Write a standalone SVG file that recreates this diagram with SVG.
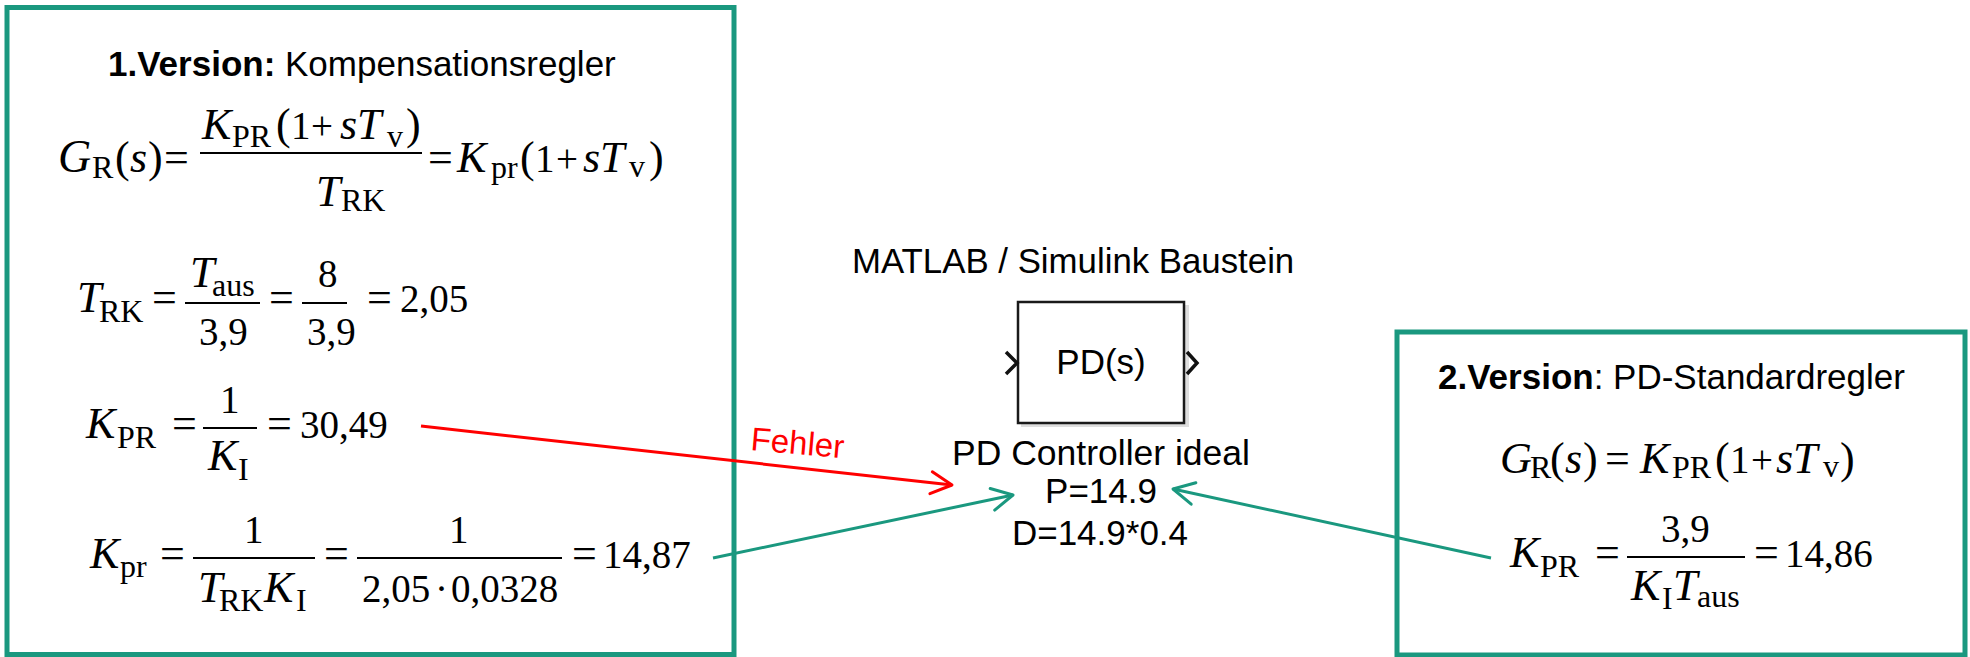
<svg xmlns="http://www.w3.org/2000/svg" width="1970" height="657" viewBox="0 0 1970 657">
<style>
.sans{font-family:"Liberation Sans",Arial,sans-serif;fill:#000}
.m{font-family:"Liberation Serif","Times New Roman",serif;fill:#000;font-size:44px}
.i{font-style:italic}
.sub{font-size:32px}
.num{font-size:39px}
.box{fill:#fff;stroke:#1a987f;stroke-width:5}
.bar{stroke:#000;stroke-width:2}
.teal{stroke:#1a987f;stroke-width:3;fill:none}
.red{stroke:#ff0000;stroke-width:3;fill:none}
.port{stroke:#111;stroke-width:3.5;fill:none;stroke-linejoin:miter}
</style>
<defs>
<marker id="arrTeal" markerUnits="userSpaceOnUse" markerWidth="30" markerHeight="30" viewBox="0 0 30 30" refX="27" refY="15" orient="auto">
<path d="M6,4 L27,15 L6,26" fill="none" stroke="#1a987f" stroke-width="3" stroke-linecap="round" stroke-linejoin="round"/>
</marker>
<marker id="arrRed" markerUnits="userSpaceOnUse" markerWidth="30" markerHeight="30" viewBox="0 0 30 30" refX="27" refY="15" orient="auto">
<path d="M6,4 L27,15 L6,26" fill="none" stroke="#ff0000" stroke-width="3" stroke-linecap="round" stroke-linejoin="round"/>
</marker>
</defs>
<rect width="1970" height="657" fill="#fff"/>

<g id="version1">
<rect class="box" x="7" y="7.5" width="727" height="647"/>
<text class="sans" x="108" y="76" font-size="35"><tspan font-weight="bold">1.Version:</tspan> Kompensationsregler</text>
<text class="m"><tspan class="i" x="58" y="172" style="font-size:46px">G</tspan><tspan class="sub" x="92" y="178">R</tspan><tspan x="115" y="172">(</tspan><tspan class="i" x="130" y="172">s</tspan><tspan x="148" y="172">)</tspan><tspan x="164" y="172">=</tspan><tspan class="i" x="202" y="139">K</tspan><tspan class="sub" x="232" y="147">PR</tspan><tspan x="276" y="139">(</tspan><tspan class="num" x="291" y="139">1</tspan><tspan class="num" x="311" y="139">+</tspan><tspan class="i" x="340" y="139">sT</tspan><tspan class="sub" x="387" y="147">v</tspan><tspan x="406" y="139">)</tspan><tspan class="i" x="316" y="206">T</tspan><tspan class="sub" x="341" y="211">RK</tspan><tspan x="428" y="172">=</tspan><tspan class="i" x="457" y="172">K</tspan><tspan class="sub" x="491" y="178">pr</tspan><tspan x="520" y="172">(</tspan><tspan class="num" x="535" y="172">1</tspan><tspan class="num" x="556" y="172">+</tspan><tspan class="i" x="583" y="172">sT</tspan><tspan class="sub" x="629" y="177">v</tspan><tspan x="649" y="172">)</tspan></text>
<line class="bar" x1="200" y1="153" x2="422" y2="153"/>

<text class="m"><tspan class="i" x="77" y="312">T</tspan><tspan class="sub" x="99" y="322">RK</tspan><tspan x="152" y="312">=</tspan><tspan class="i" x="190" y="287">T</tspan><tspan class="sub" x="212" y="296">aus</tspan><tspan class="num" x="199" y="345">3,9</tspan><tspan x="269" y="312">=</tspan><tspan class="num" x="318" y="287">8</tspan><tspan class="num" x="307" y="345">3,9</tspan><tspan x="367" y="312">=</tspan><tspan class="num" x="400" y="312">2,05</tspan></text>
<line class="bar" x1="185" y1="303" x2="260" y2="303"/>
<line class="bar" x1="302" y1="303" x2="347" y2="303"/>

<text class="m"><tspan class="i" x="86" y="438">K</tspan><tspan class="sub" x="117" y="448">PR</tspan><tspan x="172" y="438">=</tspan><tspan class="num" x="220" y="413">1</tspan><tspan class="i" x="208" y="470">K</tspan><tspan class="sub" x="238" y="480">I</tspan><tspan x="267" y="438">=</tspan><tspan class="num" x="300" y="438">30,49</tspan></text>
<line class="bar" x1="203" y1="428" x2="257" y2="428"/>

<text class="m"><tspan class="i" x="90" y="568">K</tspan><tspan class="sub" x="120" y="577">pr</tspan><tspan x="160" y="568">=</tspan><tspan class="num" x="244" y="543">1</tspan><tspan class="i" x="198" y="602">T</tspan><tspan class="sub" x="219" y="611">RK</tspan><tspan class="i" x="264" y="602">K</tspan><tspan class="sub" x="296" y="611">I</tspan><tspan x="324" y="568">=</tspan><tspan class="num" x="449" y="543">1</tspan><tspan class="num" x="362" y="602">2,05</tspan><tspan class="num" x="435" y="602">·</tspan><tspan class="num" x="451" y="602">0,0328</tspan><tspan x="572" y="568">=</tspan><tspan class="num" x="603" y="568">14,87</tspan></text>
<line class="bar" x1="193" y1="558" x2="315" y2="558"/>
<line class="bar" x1="357" y1="558" x2="562" y2="558"/>
</g>

<g id="version2">
<rect class="box" x="1397" y="332" width="568" height="323"/>
<text class="sans" x="1438" y="389" font-size="35"><tspan font-weight="bold">2.Version</tspan>: PD-Standardregler</text>
<text class="m"><tspan class="i" x="1500" y="473">G</tspan><tspan class="sub" x="1530" y="478">R</tspan><tspan x="1550" y="473">(</tspan><tspan class="i" x="1565" y="473">s</tspan><tspan x="1583" y="473">)</tspan><tspan x="1605" y="473">=</tspan><tspan class="i" x="1640" y="473">K</tspan><tspan class="sub" x="1672" y="478">PR</tspan><tspan x="1715" y="473">(</tspan><tspan class="num" x="1730" y="473">1</tspan><tspan class="num" x="1751" y="473">+</tspan><tspan class="i" x="1776" y="473">sT</tspan><tspan class="sub" x="1823" y="477">v</tspan><tspan x="1840" y="473">)</tspan></text>
<text class="m"><tspan class="i" x="1510" y="567">K</tspan><tspan class="sub" x="1540" y="577">PR</tspan><tspan x="1595" y="567">=</tspan><tspan class="num" x="1661" y="542">3,9</tspan><tspan class="i" x="1631" y="600">K</tspan><tspan class="sub" x="1662" y="609">I</tspan><tspan class="i" x="1673" y="600">T</tspan><tspan class="sub" x="1697" y="607">aus</tspan><tspan x="1754" y="567">=</tspan><tspan class="num" x="1785" y="567">14,86</tspan></text>
<line class="bar" x1="1627" y1="557" x2="1745" y2="557"/>
</g>

<g id="pd-block">
<text class="sans" x="852" y="273" font-size="34.8">MATLAB / Simulink Baustein</text>
<rect x="1021" y="305" width="168" height="122" fill="#c8c8c8" opacity="0.6"/>
<rect x="1018" y="302" width="166" height="121" fill="#fff" stroke="#1a1a1a" stroke-width="2.5"/>
<path class="port" d="M1006,352 L1017,363 L1006,374"/>
<path class="port" d="M1187,352 L1197,363 L1187,374"/>
<text class="sans" x="1101" y="374" font-size="35" text-anchor="middle" fill="#1a1a1a">PD(s)</text>
<text class="sans" x="1101" y="465" font-size="35.5" text-anchor="middle" fill="#1a1a1a">PD Controller ideal</text>
<text class="sans" x="1101" y="503" font-size="35" text-anchor="middle" fill="#1a1a1a">P=14.9</text>
<text class="sans" x="1100" y="545" font-size="35" text-anchor="middle" fill="#1a1a1a">D=14.9*0.4</text>
</g>

<g id="connectors">
<line class="red" x1="421" y1="426" x2="952" y2="485" marker-end="url(#arrRed)"/>
<text class="sans" x="750" y="450" font-size="33" style="fill:#ff0000" transform="rotate(5 750 450)">Fehler</text>
<line class="teal" x1="713" y1="558" x2="1013" y2="495" marker-end="url(#arrTeal)"/>
<line class="teal" x1="1491" y1="558" x2="1173" y2="489" marker-end="url(#arrTeal)"/>
</g>
</svg>
